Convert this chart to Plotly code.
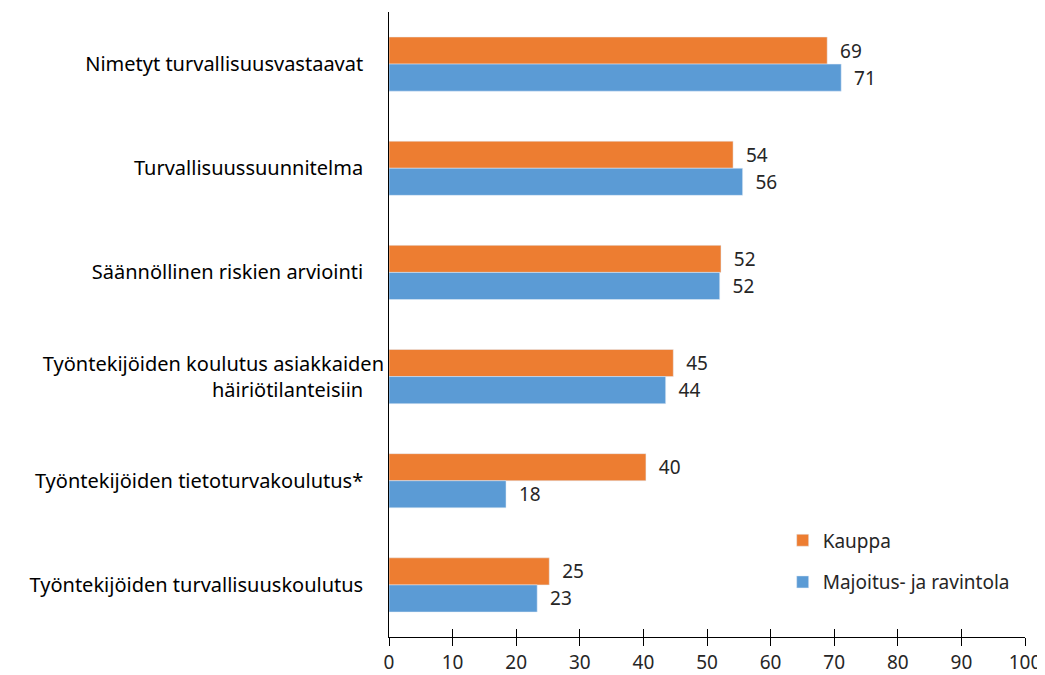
import plotly.graph_objects as go

categories = [
    "Nimetyt turvallisuusvastaavat",
    "Turvallisuussuunnitelma",
    "Säännöllinen riskien arviointi",
    "Työntekijöiden koulutus asiakkaiden<br>häiriötilanteisiin",
    "Työntekijöiden tietoturvakoulutus*",
    "Työntekijöiden turvallisuuskoulutus",
]
kauppa = [68.9, 54.1, 52.2, 44.7, 40.4, 25.2]
majoitus = [71.1, 55.6, 52.0, 43.5, 18.4, 23.3]
kauppa_labels = ["69", "54", "52", "45", "40", "25"]
majoitus_labels = ["71", "56", "52", "44", "18", "23"]
x_ticks = [0, 10, 20, 30, 40, 50, 60, 70, 80, 90, 100]

font = "Noto Sans"
fig = go.Figure()
fig.add_trace(go.Bar(
    y=categories, x=kauppa, orientation="h", name="Kauppa", legendgroup="a",
    marker=dict(color="#ED7D31"), text=kauppa_labels, texttemplate="  %{text}",
    textposition="outside",
    textfont=dict(size=19, color="#262626", family=font), cliponaxis=False,
))
fig.add_trace(go.Bar(
    y=categories, x=majoitus, orientation="h", name="Majoitus- ja ravintola",
    legendgroup="b",
    marker=dict(color="#5B9BD5"), text=majoitus_labels, texttemplate="  %{text}",
    textposition="outside",
    textfont=dict(size=19, color="#262626", family=font), cliponaxis=False,
))
# invisible trace to carry the overlay axis that draws the inner half of the cross ticks
fig.add_trace(go.Scatter(x=[x_ticks[0], x_ticks[-1]], y=[categories[0], categories[0]],
                         xaxis="x2", mode="markers", marker=dict(opacity=0),
                         showlegend=False, hoverinfo="skip"))

fig.update_layout(
    width=1037, height=667,
    margin=dict(l=381, r=20, t=4, b=38),
    barmode="group", bargap=0.48, bargroupgap=0,
    plot_bgcolor="white", paper_bgcolor="white",
    font=dict(family=font, size=19, color="#000000"),
    showlegend=True,
    legend=dict(x=0.619, y=0.185, xanchor="left", yanchor="top",
                font=dict(size=19, family=font, color="#262626"),
                bgcolor="rgba(0,0,0,0)",
                itemwidth=30, tracegroupgap=14),
    xaxis=dict(range=[0, 100], tickvals=x_ticks, showgrid=False,
               showline=True, linecolor="#000000", linewidth=1,
               ticks="outside", ticklen=8, tickcolor="#000000",
               tickfont=dict(size=19, color="#262626"), zeroline=False,
               automargin=False),
    xaxis2=dict(range=[0, 100], tickvals=x_ticks, overlaying="x", side="bottom",
                anchor="y", showgrid=False, showline=False, ticks="inside",
                ticklen=8, tickcolor="#000000", showticklabels=False,
                zeroline=False, automargin=False),
    yaxis=dict(autorange="reversed", showline=True, linecolor="#000000",
               linewidth=1, ticks="", tickfont=dict(size=20, color="#000000"),
               ticksuffix="    ", showgrid=False, automargin=False),
)

fig.write_html("out.html")
